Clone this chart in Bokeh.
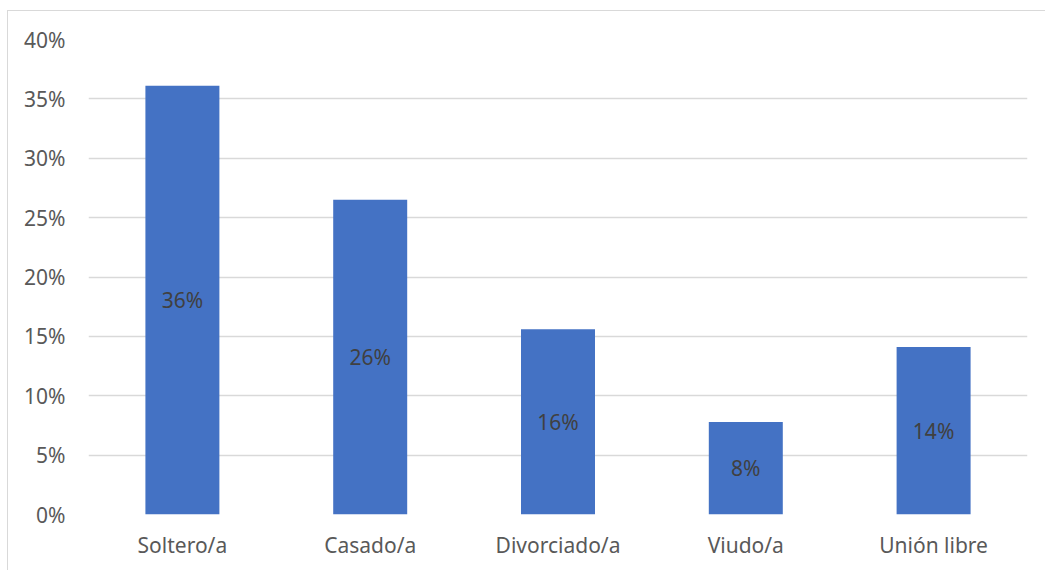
from bokeh.plotting import figure
from bokeh.models import ColumnDataSource, FactorRange, Range1d, NumeralTickFormatter, FixedTicker
from bokeh.core.properties import value
from bokeh.embed import file_html
from bokeh.resources import INLINE

categories = ["Soltero/a", "Casado/a", "Divorciado/a", "Viudo/a", "Unión libre"]
values = [0.361, 0.265, 0.156, 0.078, 0.141]
labels = ["36%", "26%", "16%", "8%", "14%"]
y_ticks = [0, 0.05, 0.10, 0.15, 0.20, 0.25, 0.30, 0.35, 0.40]

src = ColumnDataSource(dict(cat=categories, val=values, mid=[v / 2 for v in values], lab=labels))

FONT = "Noto Sans"

p = figure(x_range=FactorRange(*categories, range_padding=0), y_range=Range1d(0, 0.40),
           width=1040, height=565, output_backend="svg", toolbar_location=None,
           min_border_left=80, min_border_right=21, min_border_top=28, min_border_bottom=62)
p.styles = {"border": "1px solid #D9D9D9"}
p.margin = (10, 0, 0, 7)
p.outline_line_color = None
p.background_fill_color = "white"
p.border_fill_color = "white"

p.vbar(x="cat", top="val", width=0.394, source=src, fill_color="#4472C4", line_color=None)
p.text(x="cat", y="mid", text="lab", source=src, text_align="center", text_baseline="middle",
       text_color="#404040", text_font=value(FONT), text_font_size="21px")

p.yaxis.ticker = FixedTicker(ticks=y_ticks)
p.yaxis.formatter = NumeralTickFormatter(format="0%")
for ax in (p.xaxis, p.yaxis):
    ax.axis_line_color = None
    ax.major_tick_line_color = None
    ax.minor_tick_line_color = None
    ax.major_label_text_color = "#595959"
    ax.major_label_text_font = FONT
    ax.major_label_text_font_size = "21px"
p.yaxis.major_label_standoff = 17
p.xaxis.major_label_standoff = 10
p.xgrid.grid_line_color = None
p.ygrid.grid_line_color = "#D9D9D9"
p.ygrid.grid_line_width = 1.5

open("out.html", "w").write(file_html(p, INLINE))
